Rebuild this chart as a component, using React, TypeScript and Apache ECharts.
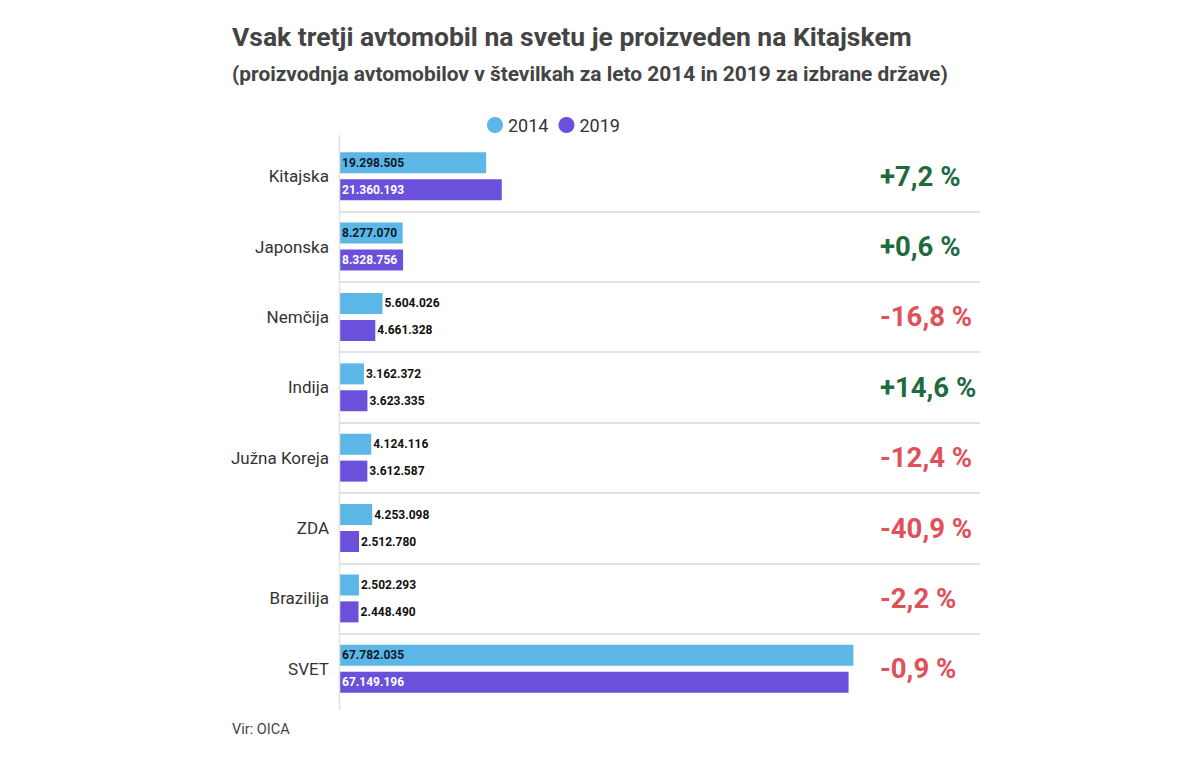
import React, { useEffect, useRef } from "react";
import * as echarts from "echarts";

const categories = ["Kitajska", "Japonska", "Nemčija", "Indija", "Južna Koreja", "ZDA", "Brazilija", "SVET"];
const values2014 = [19298505, 8277070, 5604026, 3162372, 4124116, 4253098, 2502293, 67782035];
const values2019 = [21360193, 8328756, 4661328, 3623335, 3612587, 2512780, 2448490, 67149196];
const changes = ["+7,2 %", "+0,6 %", "-16,8 %", "+14,6 %", "-12,4 %", "-40,9 %", "-2,2 %", "-0,9 %"];
const seriesNames = ["2014", "2019"];

const fmt = (v: number) => v.toString().replace(/\B(?=(\d{3})+(?!\d))/g, ".");

export default function App() {
  const ref = useRef<HTMLDivElement>(null);
  useEffect(() => {
    if (!ref.current) return;
    const chart = echarts.init(ref.current, null, { renderer: "svg" });
    const FONT = "Roboto, sans-serif";
    const makeData = (vals: number[], insideColor: string) =>
      vals.map((v) => {
        const inside = v > 7000000;
        return {
          value: v,
          label: inside
            ? { position: "insideLeft", distance: 2, color: insideColor }
            : { position: "right", distance: 2, color: "#111" },
        };
      });
    chart.setOption({
      animation: false,
      title: [
        {
          text: "Vsak tretji avtomobil na svetu je proizveden na Kitajskem",
          left: 232,
          top: 23,
          padding: 0,
          textStyle: { fontFamily: FONT, fontSize: 26.5, fontWeight: "bold", color: "#444" },
        },
        {
          text: "(proizvodnja avtomobilov v številkah za leto 2014 in 2019 za izbrane države)",
          left: 232,
          top: 63,
          padding: 0,
          textStyle: { fontFamily: FONT, fontSize: 20.9, fontWeight: "bold", color: "#444" },
        },
        {
          text: "Vir: OICA",
          left: 232,
          top: 722,
          padding: 0,
          textStyle: { fontFamily: FONT, fontSize: 14.5, fontWeight: "normal", color: "#444" },
        },
      ],
      legend: {
        data: seriesNames,
        left: 482,
        top: 111,
        icon: "circle",
        itemWidth: 16,
        itemHeight: 16,
        itemGap: 10,
        textStyle: { fontFamily: FONT, fontSize: 18, color: "#333" },
      },
      grid: { left: 340, top: 141, width: 640, height: 563, containLabel: false },
      xAxis: { type: "value", min: 0, max: 84500000, show: false },
      yAxis: [
        {
          type: "category",
          data: categories,
          inverse: true,
          axisLine: { show: false },
          axisTick: { show: false },
          axisLabel: { fontFamily: FONT, fontSize: 17, color: "#333", margin: 11 },
          splitLine: {
            show: true,
            showMinLine: false,
            showMaxLine: false,
            lineStyle: { color: "#e2e2e2", width: 2 },
          },
        },
        {
          type: "category",
          data: changes,
          inverse: true,
          position: "right",
          axisLine: { show: false },
          axisTick: { show: false },
          splitLine: { show: false },
          axisLabel: {
            margin: -100,
            align: "left",
            formatter: (v: string) => (v.startsWith("+") ? `{p|${v}}` : `{n|${v}}`),
            rich: {
              p: { fontFamily: FONT, fontSize: 27.5, fontWeight: "bold", color: "#1d6b3e" },
              n: { fontFamily: FONT, fontSize: 27.5, fontWeight: "bold", color: "#e0505a" },
            },
          },
        },
      ],
      graphic: [
        {
          type: "line",
          shape: { x1: 339.5, y1: 135, x2: 339.5, y2: 710 },
          style: { stroke: "#e2e2e2", lineWidth: 1.5 },
          z: 10,
        },
      ],
      series: [
        {
          name: seriesNames[0],
          type: "bar",
          barWidth: 21,
          barGap: "28%",
          itemStyle: { color: "#5cb6e6" },
          label: {
            show: true,
            formatter: (p: any) => fmt(p.value),
            fontFamily: FONT,
            fontSize: 12,
            fontWeight: "bold",
          },
          data: makeData(values2014, "#0e1a2b"),
        },
        {
          name: seriesNames[1],
          type: "bar",
          barWidth: 21,
          barGap: "28%",
          itemStyle: { color: "#6b50dc" },
          label: {
            show: true,
            formatter: (p: any) => fmt(p.value),
            fontFamily: FONT,
            fontSize: 12,
            fontWeight: "bold",
          },
          data: makeData(values2019, "#ffffff"),
        },
      ],
    });
    return () => chart.dispose();
  }, []);
  return <div ref={ref} style={{ width: 1200, height: 758, position: "absolute", left: 0, top: 0 }} />;
}
